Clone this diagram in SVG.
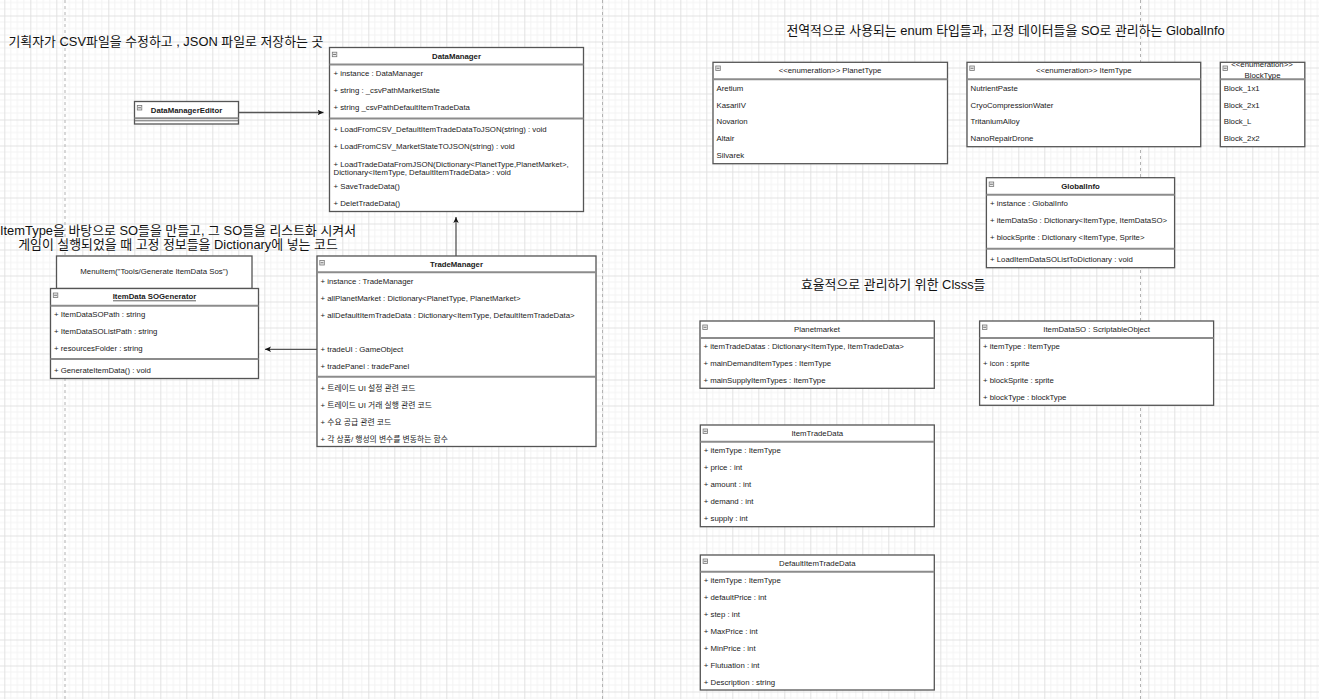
<svg xmlns="http://www.w3.org/2000/svg" width="1319" height="699" viewBox="0 0 1319 699">
<style>
.t{font-family:"Liberation Sans","Noto Sans CJK KR",sans-serif;font-size:7.8px;fill:#1a1a1a;dominant-baseline:central}
.b{font-weight:bold}
.m{text-anchor:middle}
.big{font-size:12.9px;fill:#111}
.box{fill:#fff;stroke:#555;stroke-width:1.3}
.hdr{stroke:#8c8c8c;stroke-width:2;fill:none}
.ic{fill:#eee;stroke:#777;stroke-width:0.8}
.icl{stroke:#555;stroke-width:0.8}
.pg{stroke:#b3b3b3;stroke-width:1;stroke-dasharray:3 3;fill:none}
.cn{stroke:#555;stroke-width:1.3;fill:none}
</style>
<defs>
<pattern id="grid" x="4.3" y="15.5" width="26" height="26" patternUnits="userSpaceOnUse">
<path d="M6.5,0V26M13,0V26M19.5,0V26M0,6.5H26M0,13H26M0,19.5H26" stroke="#f3f3f3" stroke-width="1" fill="none"/>
<path d="M0.5,0V26M0,0.5H26" stroke="#e2e2e2" stroke-width="1" fill="none"/>
</pattern>
<marker id="ah" viewBox="0 0 6 6" refX="6" refY="3" markerWidth="6" markerHeight="6" orient="auto" markerUnits="userSpaceOnUse">
<path d="M0,0.3 L6,3 L0,5.7 L1.5,3 z" fill="#111"/>
</marker>
<g id="icon"><rect class="ic" x="0" y="0" width="4.5" height="4.5"/><line class="icl" x1="0.8" y1="2.25" x2="3.7" y2="2.25"/></g>
</defs>
<rect width="1319" height="699" fill="#fff"/>
<rect width="1319" height="699" fill="url(#grid)"/>
<g id="pages">
<line class="pg" x1="65" y1="0" x2="65" y2="699"/>
<line class="pg" x1="602.5" y1="0" x2="602.5" y2="699"/>
<line class="pg" x1="1140.5" y1="0" x2="1140.5" y2="699"/>
</g>

<g id="labels">
<text class="t big" x="8.5" y="41">기획자가 CSV파일을 수정하고 , JSON 파일로 저장하는 곳</text>
<text class="t big m" x="178" y="230">ItemType을 바탕으로 SO들을 만들고, 그 SO들을 리스트화 시켜서</text>
<text class="t big m" x="178" y="244">게임이 실행되었을 때 고정 정보들을 Dictionary에 넣는 코드</text>
<text class="t big m" x="1005.6" y="30">전역적으로 사용되는 enum 타입들과, 고정 데이터들을 SO로 관리하는 GlobalInfo</text>
<text class="t big m" x="893.2" y="284.5">효율적으로 관리하기 위한 Clsss들</text>
</g>

<g id="connectors">
<line class="cn" x1="238.5" y1="112.5" x2="323.5" y2="112.5" marker-end="url(#ah)"/>
<line class="cn" x1="456" y1="256" x2="456" y2="217" marker-end="url(#ah)"/>
<line class="cn" x1="317" y1="349.3" x2="265" y2="349.3" marker-end="url(#ah)"/>
</g>

<g id="DataManager">
<rect class="box" x="329.5" y="47.5" width="254" height="164"/>
<line class="hdr" x1="329.5" y1="64.5" x2="583.5" y2="64.5"/>
<line class="hdr" x1="329.5" y1="118.5" x2="583.5" y2="118.5"/>
<use href="#icon" x="332.3" y="52.2"/>
<text class="t b m" x="456.5" y="56">DataManager</text>
<text class="t" x="333.5" y="73">+ instance : DataManager</text>
<text class="t" x="333.5" y="90">+ string : _csvPathMarketState</text>
<text class="t" x="333.5" y="107">+ string _csvPathDefaultItemTradeData</text>
<text class="t" x="333.5" y="129">+ LoadFromCSV_DefaultItemTradeDataToJSON(string) : void</text>
<text class="t" x="333.5" y="146">+ LoadFromCSV_MarketStateTOJSON(string) : void</text>
<text class="t" x="333.5" y="164">+ LoadTradeDataFromJSON(Dictionary&lt;PlanetType,PlanetMarket&gt;,</text>
<text class="t" x="333.5" y="172.3">Dictionary&lt;ItemType, DefaultItemTradeData&gt; : void</text>
<text class="t" x="333.5" y="186">+ SaveTradeData()</text>
<text class="t" x="333.5" y="203">+ DeletTradeData()</text>
</g>

<g id="DataManagerEditor">
<rect class="box" x="134.5" y="101.5" width="104" height="22.5"/>
<line class="hdr" x1="134.5" y1="118.2" x2="238.5" y2="118.2"/>
<line x1="134.5" y1="120.8" x2="238.5" y2="120.8" stroke="#666" stroke-width="1"/>
<use href="#icon" x="137.3" y="105.5"/>
<text class="t b m" x="186.5" y="110">DataManagerEditor</text>
</g>

<g id="MenuItem">
<rect class="box" x="56.5" y="256" width="195.5" height="32.5"/>
<text class="t m" x="154.2" y="271.5">MenuItem("Tools/Generate ItemData Sos")</text>
</g>

<g id="ItemDataSOGenerator">
<rect class="box" x="50.5" y="288.5" width="208" height="90"/>
<line class="hdr" x1="50.5" y1="305.7" x2="258.5" y2="305.7"/>
<line class="hdr" x1="50.5" y1="359" x2="258.5" y2="359"/>
<use href="#icon" x="53.3" y="293"/>
<text class="t b m" x="154.5" y="296.7">ItemData SOGenerator</text>
<line x1="113" y1="300.8" x2="196" y2="300.8" stroke="#1a1a1a" stroke-width="0.7"/>
<text class="t" x="54" y="314.3">+ ItemDataSOPath : string</text>
<text class="t" x="54" y="331.3">+ ItemDataSOListPath : string</text>
<text class="t" x="54" y="348.3">+ resourcesFolder : string</text>
<text class="t" x="54" y="370">+ GenerateItemData() : void</text>
</g>

<g id="TradeManager">
<rect class="box" x="317" y="256" width="279" height="190.5"/>
<line class="hdr" x1="317" y1="272.3" x2="596" y2="272.3"/>
<line class="hdr" x1="317" y1="376.7" x2="596" y2="376.7"/>
<use href="#icon" x="319.8" y="260.5"/>
<text class="t b m" x="456.5" y="264">TradeManager</text>
<text class="t" x="320.5" y="281">+ instance : TradeManager</text>
<text class="t" x="320.5" y="298">+ allPlanetMarket : Dictionary&lt;PlanetType, PlanetMarket&gt;</text>
<text class="t" x="320.5" y="315">+ allDefaultItemTradeData : Dictionary&lt;ItemType, DefaultItemTradeData&gt;</text>
<text class="t" x="320.5" y="349">+ tradeUI : GameObject</text>
<text class="t" x="320.5" y="366">+ tradePanel : tradePanel</text>
<text class="t" x="320.5" y="388">+ 트레이드 UI 설정 관련 코드</text>
<text class="t" x="320.5" y="405">+ 트레이드 UI 거래 실행 관련 코드</text>
<text class="t" x="320.5" y="422">+ 수요 공급 관련 코드</text>
<text class="t" x="320.5" y="439">+ 각 상품/ 행성의 변수를 변동하는 함수</text>
</g>

<g id="PlanetType">
<rect class="box" x="713" y="62.3" width="234.5" height="101.4"/>
<line class="hdr" x1="713" y1="79.3" x2="947.5" y2="79.3"/>
<use href="#icon" x="715.8" y="66"/>
<text class="t m" x="830" y="70.7">&lt;&lt;enumeration&gt;&gt;  PlanetType</text>
<text class="t" x="716.5" y="88.3">Aretium</text>
<text class="t" x="716.5" y="105">KasariIV</text>
<text class="t" x="716.5" y="121.5">Novarion</text>
<text class="t" x="716.5" y="138.3">Altair</text>
<text class="t" x="716.5" y="155.3">Silvarek</text>
</g>

<g id="ItemType">
<rect class="box" x="967" y="62.3" width="233.7" height="84.4"/>
<line class="hdr" x1="967" y1="79.3" x2="1200.7" y2="79.3"/>
<use href="#icon" x="969.8" y="66"/>
<text class="t m" x="1083.8" y="70.7">&lt;&lt;enumeration&gt;&gt; ItemType</text>
<text class="t" x="970.5" y="88.3">NutrientPaste</text>
<text class="t" x="970.5" y="105">CryoCompressionWater</text>
<text class="t" x="970.5" y="121.5">TritaniumAlloy</text>
<text class="t" x="970.5" y="138.3">NanoRepairDrone</text>
</g>

<g id="BlockType">
<rect class="box" x="1220.3" y="62.3" width="84.5" height="84.4"/>
<line class="hdr" x1="1220.3" y1="79.3" x2="1304.8" y2="79.3"/>
<use href="#icon" x="1223" y="66"/>
<text class="t m" x="1262" y="64.5">&lt;&lt;enumeration&gt;&gt;</text>
<text class="t m" x="1262.5" y="75">BlockType</text>
<text class="t" x="1223.7" y="88.3">Block_1x1</text>
<text class="t" x="1223.7" y="105">Block_2x1</text>
<text class="t" x="1223.7" y="121.5">Block_L</text>
<text class="t" x="1223.7" y="138.3">Block_2x2</text>
</g>

<g id="GlobalInfo">
<rect class="box" x="986.4" y="177.7" width="188.2" height="90"/>
<line class="hdr" x1="986.4" y1="194.7" x2="1174.6" y2="194.7"/>
<line class="hdr" x1="986.4" y1="248.7" x2="1174.6" y2="248.7"/>
<use href="#icon" x="989.2" y="182"/>
<text class="t b m" x="1080.5" y="186">GlobalInfo</text>
<text class="t" x="990" y="203.3">+ instance : GlobalInfo</text>
<text class="t" x="990" y="220.3">+ itemDataSo : Dictionary&lt;ItemType, ItemDataSO&gt;</text>
<text class="t" x="990" y="237.3">+ blockSprite : Dictionary &lt;ItemType, Sprite&gt;</text>
<text class="t" x="990" y="259.3">+ LoadItemDataSOListToDictionary : void</text>
</g>

<g id="Planetmarket">
<rect class="box" x="700" y="321" width="234.3" height="67.3"/>
<line class="hdr" x1="700" y1="338" x2="934.3" y2="338"/>
<use href="#icon" x="702.8" y="325"/>
<text class="t m" x="817" y="329.3">Planetmarket</text>
<text class="t" x="703.5" y="346.3">+ itemTradeDatas : Dictionary&lt;ItemType, ItemTradeData&gt;</text>
<text class="t" x="703.5" y="363.3">+ mainDemandItemTypes : ItemType</text>
<text class="t" x="703.5" y="380.3">+ mainSupplyItemTypes : ItemType</text>
</g>

<g id="ItemDataSO">
<rect class="box" x="979.6" y="321" width="234" height="84.3"/>
<line class="hdr" x1="979.6" y1="338" x2="1213.6" y2="338"/>
<use href="#icon" x="982.4" y="325"/>
<text class="t m" x="1096.6" y="329.3">ItemDataSO : ScriptableObject</text>
<text class="t" x="983" y="346.3">+ itemType : ItemType</text>
<text class="t" x="983" y="363.3">+ icon : sprite</text>
<text class="t" x="983" y="380.3">+ blockSprite : sprite</text>
<text class="t" x="983" y="397.3">+ blockType : blockType</text>
</g>

<g id="ItemTradeData">
<rect class="box" x="700.3" y="425" width="234" height="101.7"/>
<line class="hdr" x1="700.3" y1="441.7" x2="934.3" y2="441.7"/>
<use href="#icon" x="703.1" y="429"/>
<text class="t m" x="817.3" y="433.3">ItemTradeData</text>
<text class="t" x="703.8" y="450.3">+ itemType : ItemType</text>
<text class="t" x="703.8" y="467.3">+ price : int</text>
<text class="t" x="703.8" y="484.3">+ amount : int</text>
<text class="t" x="703.8" y="501.3">+ demand : int</text>
<text class="t" x="703.8" y="518.3">+ supply : int</text>
</g>

<g id="DefaultItemTradeData">
<rect class="box" x="700.3" y="555" width="234" height="135"/>
<line class="hdr" x1="700.3" y1="571.7" x2="934.3" y2="571.7"/>
<use href="#icon" x="703.1" y="559"/>
<text class="t m" x="817.3" y="563.3">DefaultItemTradeData</text>
<text class="t" x="703.8" y="580.3">+ itemType : ItemType</text>
<text class="t" x="703.8" y="597.3">+ defaultPrice : int</text>
<text class="t" x="703.8" y="614.3">+ step : int</text>
<text class="t" x="703.8" y="631.3">+ MaxPrice : int</text>
<text class="t" x="703.8" y="648.3">+ MinPrice : int</text>
<text class="t" x="703.8" y="665.3">+ Flutuation : int</text>
<text class="t" x="703.8" y="682.3">+ Description : string</text>
</g>
</svg>
